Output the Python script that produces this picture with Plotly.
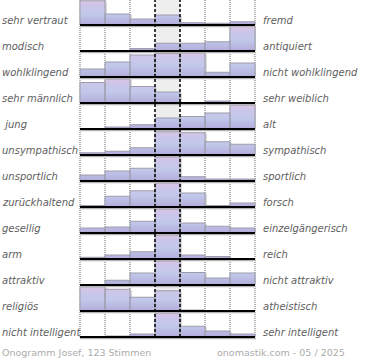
import plotly.graph_objects as go

# ---- data -------------------------------------------------------------
LEFT_LABELS = [
    "sehr vertraut", "modisch", "wohlklingend", "sehr männlich", "\u00a0jung",
    "unsympathisch", "unsportlich", "zurückhaltend", "gesellig", "arm",
    "attraktiv", "religiös", "nicht intelligent",
]
RIGHT_LABELS = [
    "fremd", "antiquiert", "nicht wohlklingend", "sehr weiblich", "alt",
    "sympathisch", "sportlich", "forsch", "einzelgängerisch", "reich",
    "nicht attraktiv", "atheistisch", "sehr intelligent",
]
# bar heights per row, 7 scale steps (100 = full row height)
VALUES = [
    [97, 44, 24, 40, 9, 7, 13],
    [0, 0, 10, 31, 31, 37, 100],
    [32, 60, 88, 94, 96, 19, 56],
    [82, 96, 66, 44, 2, 8, 0],
    [0, 8, 17, 44, 50, 64, 96],
    [9, 15, 29, 93, 89, 53, 43],
    [24, 40, 51, 96, 17, 8, 8],
    [6, 43, 65, 96, 56, 6, 16],
    [20, 24, 47, 96, 40, 27, 20],
    [7, 16, 29, 96, 16, 10, 2],
    [0, 19, 48, 96, 50, 28, 48],
    [97, 87, 55, 81, 4, 0, 0],
    [0, 4, 12, 96, 43, 24, 12],
]
FOOTER_LEFT = "Onogramm Josef, 123 Stimmen"
FOOTER_RIGHT = "onomastik.com - 05 / 2025"

# ---- layout constants ---------------------------------------------------
N_COLS = 7
N_ROWS = len(VALUES)
BAR_MAX = 25 / 26          # full bar height in row units
Y_TOP = -1 / 26
Y_BOT = -13.115
W, H = 370, 360
ML, MR, MT, MB = 79, 114, 0, 20
PLOT_W = W - ML - MR

GRAD = [[0, "#a99fd3"], [0.08, "#b6b2df"], [0.45, "#c2c8ea"],
        [0.75, "#cbc6e9"], [1, "#dcc3e4"]]

fig = go.Figure()

for i, row in enumerate(VALUES):
    base = -(i + 1)
    xs, ys, sx, sy = [], [], [], []
    for j, v in enumerate(row):
        if v <= 0:
            continue
        top = base + v / 100 * BAR_MAX
        xs += [j, j, j + 1, j + 1, j, None]
        ys += [base, top, top, base, base, None]
        sx += [j + 0.07, j + 0.07, j + 1.07, j + 1.07, j + 0.07, None]
        sy += [base, top - 0.04, top - 0.04, base, base, None]
    # soft shadow
    fig.add_trace(go.Scatter(
        x=sx, y=sy, mode="lines", fill="toself", fillcolor="#cfcfcf",
        line=dict(width=0, color="rgba(0,0,0,0)"), hoverinfo="skip",
        showlegend=False))
    fig.add_trace(go.Scatter(
        x=xs, y=ys, mode="lines", fill="toself",
        fillgradient=dict(type="vertical", start=base, stop=base + BAR_MAX,
                          colorscale=GRAD),
        line=dict(width=1, color="#9c9cab"), hoverinfo="skip",
        showlegend=False))

shapes = []
# neutral column background
shapes.append(dict(type="rect", xref="x", yref="y", x0=3, x1=4, y0=-13, y1=Y_TOP,
                   fillcolor="#eeeeee", line=dict(width=0), layer="below"))
# dotted column separators
for c in [0, 1, 2, 5, 6, 7]:
    shapes.append(dict(type="line", xref="x", yref="y", x0=c, x1=c, y0=-13, y1=Y_TOP,
                       line=dict(color="#666666", width=1, dash="1px,1px"),
                       layer="below"))
# row baselines with shadow
for i in range(N_ROWS):
    base = -(i + 1)
    shapes.append(dict(type="line", xref="x", yref="y", x0=0, x1=7.05,
                       y0=base - 0.065, y1=base - 0.065,
                       line=dict(color="#b4b4b4", width=1.2), layer="above"))
    shapes.append(dict(type="line", xref="x", yref="y", x0=0, x1=7,
                       y0=base, y1=base,
                       line=dict(color="#000000", width=2), layer="above"))
# dashed neutral column borders
for c in [3, 4]:
    shapes.append(dict(type="line", xref="x", yref="y", x0=c, x1=c, y0=-13, y1=Y_TOP,
                       line=dict(color="#000000", width=1.5, dash="3px,2px"),
                       layer="above"))

LABEL_FONT = dict(family="DejaVu Sans", size=10, color="#5e5e5e", style="italic")
ann = []
for i, (lt, rt) in enumerate(zip(LEFT_LABELS, RIGHT_LABELS)):
    yb = -(i + 1) + 5 / 26
    ann.append(dict(text=lt, xref="paper", x=-ML / PLOT_W, xanchor="left",
                    yref="y", y=yb, yanchor="middle", showarrow=False,
                    font=LABEL_FONT))
    ann.append(dict(text=rt, xref="x", x=7, xshift=6, xanchor="left",
                    yref="y", y=yb, yanchor="middle", showarrow=False,
                    font=LABEL_FONT))
FOOT_FONT = dict(family="DejaVu Sans", size=9.5, color="#ababab")
ann.append(dict(text=FOOTER_LEFT, xref="paper", x=-ML / PLOT_W, xanchor="left",
                yref="paper", y=0, yanchor="middle", yshift=-12,
                showarrow=False, font=FOOT_FONT))
ann.append(dict(text=FOOTER_RIGHT, xref="paper", x=(347 - ML) / PLOT_W,
                xanchor="right", yref="paper", y=0, yanchor="middle",
                yshift=-12, showarrow=False, font=FOOT_FONT))

fig.update_layout(
    width=W, height=H,
    margin=dict(l=ML, r=MR, t=MT, b=MB),
    paper_bgcolor="white", plot_bgcolor="white",
    xaxis=dict(range=[-0.04, 7.04], visible=False, fixedrange=True),
    yaxis=dict(range=[Y_BOT, Y_TOP], visible=False, fixedrange=True),
    shapes=shapes, annotations=ann, showlegend=False,
)

fig.write_html(
    "out.html",
    config={"displayModeBar": False},
    post_script="document.body.style.margin='0';document.body.style.overflow='hidden';",
)
